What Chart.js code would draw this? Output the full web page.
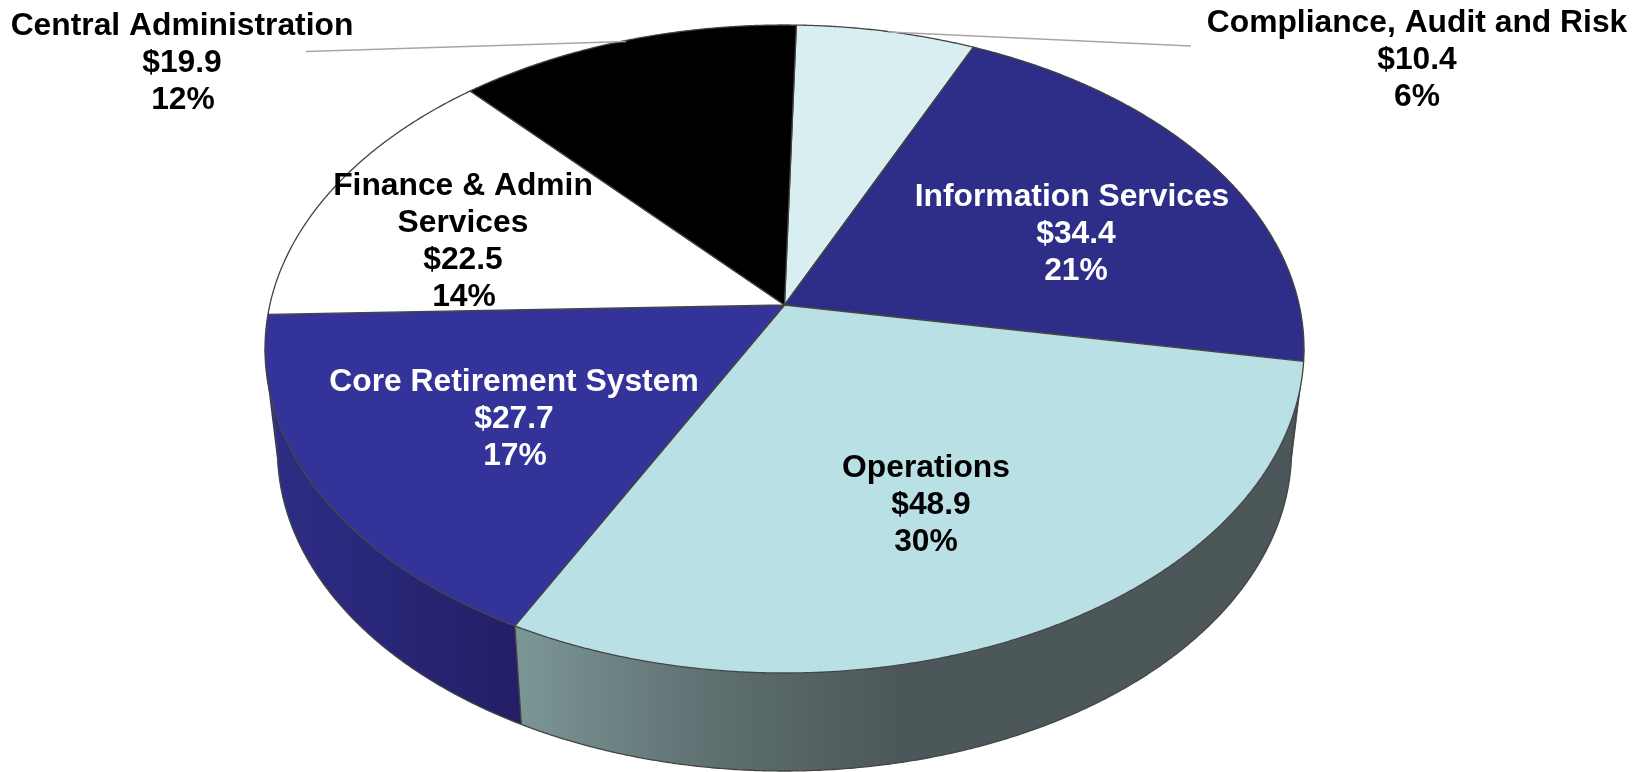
<!DOCTYPE html>
<html>
<head>
<meta charset="utf-8">
<title>Budget by area</title>
<script src="https://cdn.jsdelivr.net/npm/chart.js@4"></script>
<style>
  html, body { margin: 0; padding: 0; background: #fff; }
  canvas { display: block; }
</style>
</head>
<body>
<canvas id="budgetPie" width="1649" height="772"></canvas>
<script>
// slices run clockwise from the top
const categories = ['Compliance, Audit and Risk', 'Information Services', 'Operations', 'Core Retirement System', 'Finance & Admin Services', 'Central Administration'];
const amounts = [10.4, 34.4, 48.9, 27.7, 22.5, 19.9];
const percents = [6, 21, 30, 17, 14, 12];
const sliceColors = ['#d9eef0', '#2e2d88', '#b9e0e5', '#333399', '#ffffff', '#000000'];

// label text, split over lines where the picture splits it
const labelLines = [['Compliance, Audit and Risk'], ['Information Services'], ['Operations'], ['Core Retirement System'], ['Finance & Admin', 'Services'], ['Central Administration']];
const labelColors = ['#000', '#fff', '#000', '#fff', '#000', '#000'];
const labelSpots = [[1417, 32], [1072, 206], [926, 477], [514, 391], [463, 195], [182, 35]];
// the value and percent lines are not quite centred under the name
const amountNudge = [0, 4, 5, 0, 0, 0];
const percentNudge = [0, 4, 0, 1, 1, 1];

// the tilted disc: top and bottom rims are ellipses, centre pulled up by perspective
const topRim = { cx: 784.5, cy: 349, rx: 519.5, ry: 324 };
const bottomRim = { cx: 784.5, cy: 450.5, rx: 507, ry: 320.5 };
const tilt = 0.1358;
const lineGap = 37;
const sideAngle = Math.asin(tilt); // where the wall's outline leaves the top rim

function project(angle, rim) {
    const u = Math.cos(angle), v = Math.sin(angle);
    const d = 1 - tilt * v;
    return [
        rim.cx + rim.rx * u * Math.sqrt(1 - tilt * tilt) / d,
        rim.cy + rim.ry * (v - tilt) / d
    ];
}

function rimPoints(start, end, rim) {
    const steps = Math.max(2, Math.ceil((end - start) / 0.005));
    const pts = [];
    for (let i = 0; i <= steps; i++) pts.push(project(start + (end - start) * i / steps, rim));
    return pts;
}

function addPoints(ctx, pts, closed) {
    pts.forEach((p, i) => i ? ctx.lineTo(p[0], p[1]) : ctx.moveTo(p[0], p[1]));
    if (closed) ctx.closePath();
}

// quads change direction at the side outline; all must wind the same way to union
function signedArea(pts) {
    let s = 0;
    pts.forEach((p, i) => {
        const q = pts[(i + 1) % pts.length];
        s += p[0] * q[1] - q[0] * p[1];
    });
    return s;
}

function wallFill(ctx, index) {
    // only the two front slices show shading that changes across the wall
    if (index === 2) {
        const g = ctx.createLinearGradient(520, 0, 900, 0);
        g.addColorStop(0, '#7b9595');
        g.addColorStop(0.5, '#5f7071');
        g.addColorStop(1, '#4c5759');
        return g;
    }
    if (index === 3) {
        const g = ctx.createLinearGradient(270, 0, 520, 0);
        g.addColorStop(0, '#2e2d86');
        g.addColorStop(1, '#221f66');
        return g;
    }
    return '#222266';
}

const tiltedPie = {
    id: 'tiltedPie',
    beforeDatasetDraw(chart) {
        const ctx = chart.ctx;
        const arcs = chart.getDatasetMeta(0).data;
        const frontFrom = sideAngle, frontTo = Math.PI - sideAngle;
        ctx.save();
        ctx.lineJoin = 'round';

        // each wall is one path of many quads, so the straight side outline fills in too
        arcs.forEach((arc, i) => {
            const from = i === 2 ? Math.min(arc.startAngle, frontFrom) : arc.startAngle;
            const a = rimPoints(from, arc.endAngle, topRim);
            const b = rimPoints(from, arc.endAngle, bottomRim);
            ctx.beginPath();
            for (let n = 0; n < a.length - 1; n++) {
                const quad = [a[n], a[n + 1], b[n + 1], b[n]];
                if (signedArea(quad) < 0) quad.reverse();
                addPoints(ctx, quad, true);
            }
            ctx.fillStyle = wallFill(ctx, i);
            ctx.fill();
        });

        ctx.strokeStyle = '#454545';
        ctx.lineWidth = 1.3;
        arcs.forEach((arc) => {
            const from = Math.max(arc.startAngle, frontFrom), to = Math.min(arc.endAngle, frontTo);
            if (to > from) {
                ctx.beginPath();
                addPoints(ctx, rimPoints(from, to, bottomRim));
                ctx.stroke();
            }
            if (arc.startAngle > 0.35 && arc.startAngle < frontTo - 0.35) {
                ctx.beginPath();
                addPoints(ctx, [project(arc.startAngle, topRim), project(arc.startAngle, bottomRim)]);
                ctx.stroke();
            }
        });
        [frontFrom, frontTo].forEach((ang) => {
            ctx.beginPath();
            addPoints(ctx, [project(ang, topRim), project(ang, bottomRim)]);
            ctx.stroke();
        });

        const apex = [topRim.cx, topRim.cy - topRim.ry * tilt];
        arcs.forEach((arc, i) => {
            ctx.beginPath();
            addPoints(ctx, [apex].concat(rimPoints(arc.startAngle, arc.endAngle, topRim)), true);
            ctx.fillStyle = sliceColors[i];
            ctx.fill();
            ctx.stroke();
        });
        ctx.restore();
        return false;
    },
    afterDraw(chart) {
        const ctx = chart.ctx;
        ctx.save();
        // leader lines of the two outside labels
        ctx.strokeStyle = '#a6a6a6';
        ctx.lineWidth = 1.7;
        ctx.beginPath();
        ctx.moveTo(306, 51.5);
        ctx.lineTo(626, 41.5);
        ctx.moveTo(888, 32);
        ctx.lineTo(1191, 46);
        ctx.stroke();

        ctx.font = 'bold 31.8px "Liberation Sans", Arial, sans-serif';
        ctx.textAlign = 'center';
        ctx.textBaseline = 'alphabetic';
        categories.forEach((c, i) => {
            const x = labelSpots[i][0], y = labelSpots[i][1];
            const names = labelLines[i];
            ctx.fillStyle = labelColors[i];
            names.forEach((t, n) => ctx.fillText(t, x, y + n * lineGap));
            ctx.fillText('$' + amounts[i].toFixed(1), x + amountNudge[i], y + names.length * lineGap);
            ctx.fillText(percents[i] + '%', x + percentNudge[i], y + (names.length + 1) * lineGap);
        });
        ctx.restore();
    }
};

new Chart(document.getElementById('budgetPie'), {
    type: 'pie',
    data: {
        labels: categories,
        datasets: [{ data: amounts, backgroundColor: sliceColors }]
    },
    options: {
        responsive: false,
        animation: false,
        rotation: 1.5,
        plugins: { legend: { display: false }, tooltip: { enabled: false } }
    },
    plugins: [tiltedPie]
});
</script>
</body>
</html>
